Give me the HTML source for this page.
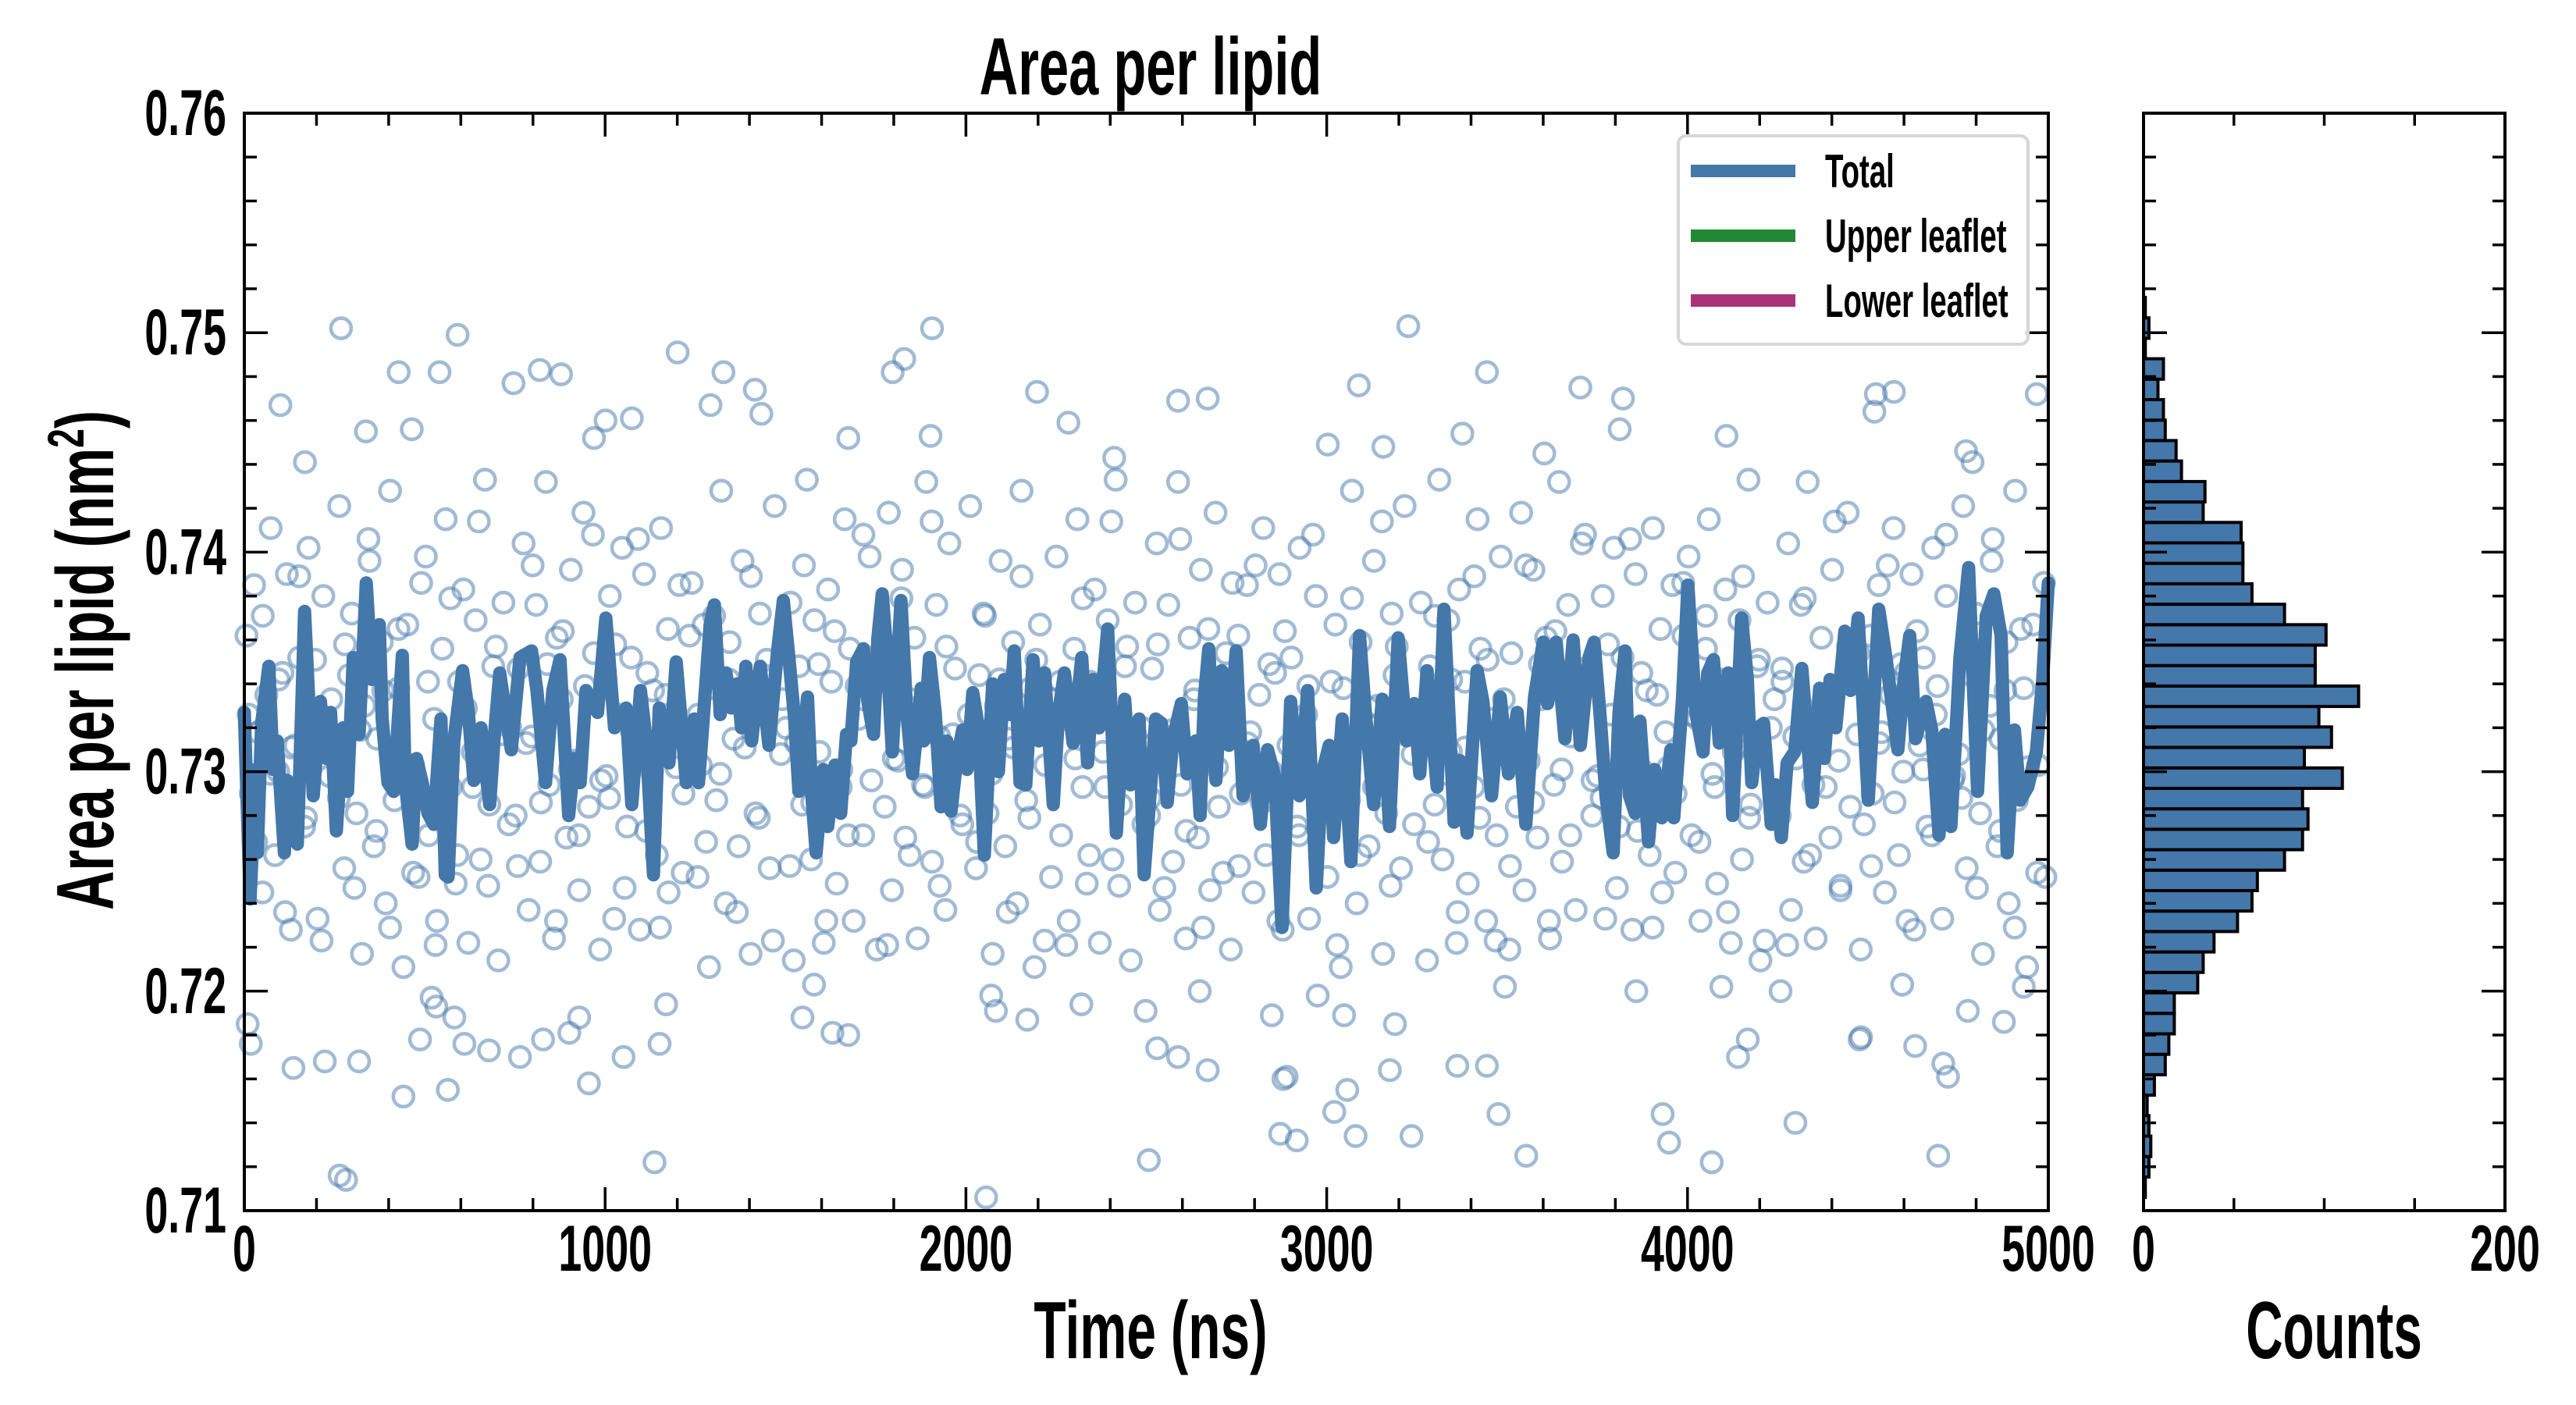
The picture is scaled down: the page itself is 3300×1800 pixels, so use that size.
<!DOCTYPE html>
<html>
<head>
<meta charset="utf-8">
<style>
html,body{margin:0;padding:0;background:#fff;}
svg{display:block;}
text{font-family:"Liberation Sans Narrow","Liberation Sans",sans-serif;font-weight:bold;fill:#000;}
</style>
</head>
<body>
<svg id="chart" width="3300" height="1800" viewBox="0 0 3300 1800" xmlns="http://www.w3.org/2000/svg">
  <g id="scatter"></g>
  <g id="line"></g>
  <g id="hist"></g>
  <g id="axes"></g>
  <g id="labels"></g>
  <g id="legend"></g>
</svg>
<script>
// ---------- data ----------
const xTicks = [0, 1000, 2000, 3000, 4000, 5000];
const xTickLabels = ["0", "1000", "2000", "3000", "4000", "5000"];
const yTicks = [0.71, 0.72, 0.73, 0.74, 0.75, 0.76];
const yTickLabels = ["0.71", "0.72", "0.73", "0.74", "0.75", "0.76"];
const histTicks = [0, 200];
const histTickLabels = ["0", "200"];
const legendLabels = ["Total", "Upper leaflet", "Lower leaflet"];
const legendColors = ["#4477aa", "#228833", "#aa3377"];

const lineTime = [0,16,32,36,48,68,80,91,111,119,131,147,159,167,191,211,227,239,255,274,286,302,318,338,354,374,382,398,414,438,446,465,477,493,509,525,545,557,565,581,605,621,636,656,680,692,708,724,740,764,796,811,835,855,875,899,915,931,947,979,1002,1026,1058,1074,1098,1114,1134,1150,1177,1197,1225,
1247,1259,1279,1291,1303,1319,1335,1350,1366,1378,1390,1406,1418,1430,1454,1478,1494,1510,1525,1537,1561,1573,1585,1605,1617,1637,1653,1669,1681,1697,1716,1728,1744,1756,1768,1780,1796,1820,1836,1852,1876,1883,1899,1915,1931,1947,1959,1975,1991,2003,2019,2035,2051,2074,2090,2106,2122,2134,2150,2166,2186,2202,2218,2242,2257,2273,2297,2321,2337,2353,2369,2393,2417,2440,2456,2480,
2494,2526,2542,2558,2574,2597,2613,2637,2649,2661,2673,2693,2709,2729,2749,2768,2796,2816,2836,2856,2876,2900,2924,2947,2971,2987,3007,3019,3043,3067,3091,3107,3130,3154,3174,3198,3222,3242,3258,3278,3306,3325,3353,3369,3389,3417,3433,3457,3481,3504,3528,3552,3576,3600,3612,3636,3660,3683,3703,3727,
3741,3757,3774,3794,3810,3827,3839,3855,3868,3892,3909,3929,3954,3962,3986,4001,4023,4043,4056,4072,4088,4113,4125,4150,4166,4178,4195,4211,4232,4244,4260,4276,4297,4317,4330,4346,4366,4379,4395,4411,4436,4452,4473,4501,4530,4550,4583,4599,4616,4632,4661,4677,4697,4714,4730,4755,4779,4804,4828,4849,4869,4886,4906,4922,4943,4967,4984,5000];
const lineArea = [.7327,.7242,.7301,.7263,.7322,.7348,.7301,.7314,.7263,.7296,.7289,.7267,.7329,.7373,.7289,.7332,.7306,.7327,.7273,.7320,.7291,.7352,.7317,.7386,.7342,.7367,.7324,.7295,.7291,.7353,.7295,.7267,.7306,.7295,.7281,.7276,.7324,.7253,.7252,.7314,.7346,.7327,.7296,.7320,.7285,.7314,.7345,.7327,.7310,.7352,.7355,.7337,.7295,.7337,.7351,.7280,.7306,.7295,.7337,.7327,.7370,.7320,.7329,.7285,.7337,.7314,.7253,.7329,.7304,.7350,.7295,
.7324,.7295,.7340,.7367,.7376,.7326,.7345,.7329,.7340,.7320,.7348,.7314,.7332,.7348,.7312,.7355,.7378,.7351,.7324,.7291,.7334,.7289,.7263,.7301,.7275,.7303,.7281,.7317,.7314,.7350,.7356,.7332,.7317,.7361,.7381,.7356,.7309,.7378,.7327,.7299,.7338,.7314,.7352,.7327,.7284,.7314,.7282,.7306,.7319,.7301,.7336,.7320,.7262,.7340,.7300,.7342,.7326,.7355,.7295,.7294,.7351,.7314,.7345,.7285,.7327,.7345,.7313,.7352,.7304,.7342,.7320,.7365,.7272,.7333,.7294,.7324,
.7253,.7324,.7322,.7286,.7315,.7331,.7299,.7314,.7280,.7334,.7356,.7296,.7346,.7312,.7355,.7289,.7312,.7276,.7310,.7298,.7229,.7332,.7289,.7337,.7247,.7299,.7312,.7270,.7324,.7259,.7362,.7327,.7285,.7333,.7275,.7361,.7314,.7331,.7299,.7346,.7293,.7374,.7277,.7305,.7272,.7346,.7332,.7289,.7334,.7299,.7327,.7276,.7334,.7359,.7331,.7359,.7315,.7360,.7312,.7352,
.7359,.7327,.7289,.7263,.7327,.7355,.7289,.7281,.7323,.7268,.7301,.7279,.7310,.7279,.7333,.7385,.7327,.7309,.7345,.7351,.7313,.7345,.7280,.7370,.7342,.7295,.7320,.7322,.7276,.7294,.7270,.7304,.7309,.7347,.7320,.7286,.7338,.7306,.7342,.7320,.7364,.7337,.7370,.7287,.7374,.7352,.7310,.7340,.7362,.7315,.7332,.7319,.7271,.7317,.7275,.7352,.7393,.7291,.7371,.7381,.7362,.7263,.7319,.7287,.7293,.7309,.7341,.7386];

const outlierTime = [268,591,3226,1906,428,541,819,1201,1328,1797,1829,2197,2588,2670,3089,3444,4522,4572,3703,3821,4968,3812,4108,4518,1674,1292,1415,1433,1902,2284,2411,3003,3157,3376,3603,4772,4790,1001,969,100,168,337,464,746,878,1074,
264,282,2056,1137,2507,3553,4067,4695,3949,4299,3021,2871,3080,2917,3235,3476,3931,441,564,955,136,223,318,610,678,764,1051,1151,18,1630,1674,2083,2170,2530,2588,2670,2880,2889,3057,3175,3362,3444,4140,4167,4481,4631,4709,4722,4877,4777,9,487,519,532,582,828,901,928,1169,1547,1579,2070,2320,2498,2648,2848,2975,3048,3189,3494,3858,4094,4258,4477,4595,4932];
const outlierArea = [.7502,.7499,.7503,.7502,.7482,.7482,.7483,.7491,.7482,.7482,.7488,.7473,.7469,.7470,.7476,.7482,.7472,.7473,.7475,.7470,.7472,.7456,.7453,.7464,.7452,.7467,.7474,.7463,.7453,.7459,.7443,.7449,.7448,.7454,.7445,.7446,.7441,.7460,.7452,.7467,.7441,.7455,.7456,.7477,.7481,.7461,
.7116,.7114,.7106,.7122,.7123,.7125,.7122,.7125,.7131,.7140,.7145,.7135,.7134,.7132,.7134,.7144,.7144,.7152,.7155,.7158,.7165,.7168,.7168,.7176,.7173,.7170,.7170,.7176,.7176,.7181,.7180,.7191,.7187,.7174,.7170,.7164,.7160,.7161,.7155,.7164,.7166,.7166,.7170,.7178,.7179,.7175,.7167,.7161,.7186,.7191,.7185,.7178,.7197,.7193,.7188,.7178,.7181,.7188,.7194,.7188,.7203,.7198,.7194,.7191,.7200,.7189,.7198,.7189,.7185,.7202,.7200,.7202,.7200,.7178,.7203,.7202];

const bandTime = [
6,18,27,39,50,61,73,85,94,106,118,129,141,152,166,178,190,203,219,236,
254,263,277,290,298,311,326,333,347,359,368,381,392,404,416,427,441,452,468,483,
503,511,526,534,549,558,572,586,595,607,621,633,641,655,667,679,690,704,718,737,
752,760,774,788,797,809,820,836,845,858,866,880,893,905,917,928,940,955,969,986,
1004,1013,1025,1038,1047,1061,1072,1081,1096,1108,1117,1130,1143,1155,1168,1176,1191,1206,1217,1234,
1256,1265,1273,1288,1299,1308,1322,1334,1345,1356,1370,1381,1394,1403,1417,1429,1440,1456,1470,1487,
1502,1514,1523,1537,1546,1559,1571,1580,1594,1606,1618,1627,1642,1653,1664,1678,1689,1703,1715,1733,
1753,1761,1775,1786,1795,1811,1823,1832,1846,1857,1866,1881,1890,1906,1918,1926,1943,1954,1970,1984,
2005,2012,2028,2037,2049,2060,2074,2083,2096,2109,2118,2131,2142,2154,2167,2178,2190,2205,2220,2236,
2251,2264,2276,2285,2300,2309,2323,2335,2344,2357,2371,2380,2393,2406,2415,2430,2441,2457,2469,2488,
2508,2516,2529,2537,2552,2561,2574,2588,2596,2609,2620,2632,2643,2651,2668,2677,2692,2701,2721,2734,
2755,2762,2779,2788,2797,2813,2824,2831,2848,2857,2869,2878,2894,2902,2918,2925,2943,2951,2970,2981,
3002,3014,3024,3039,3046,3062,3070,3083,3094,3109,3116,3131,3140,3156,3165,3180,3188,3206,3216,3238,
3253,3261,3278,3286,3299,3312,3321,3337,3344,3360,3367,3383,3391,3407,3418,3426,3442,3454,3471,3482,
3506,3512,3527,3539,3548,3560,3573,3584,3593,3608,3619,3630,3644,3652,3669,3677,3690,3707,3718,3736,
3751,3765,3772,3789,3796,3810,3820,3835,3847,3856,3872,3879,3895,3904,3916,3930,3939,3958,3967,3989,
4003,4011,4027,4036,4051,4059,4075,4082,4097,4105,4120,4128,4144,4151,4169,4175,4193,4202,4222,4231,
4256,4262,4279,4287,4296,4314,4322,4333,4349,4355,4371,4378,4396,4401,4419,4424,4444,4451,4473,4480,
4507,4513,4530,4538,4547,4563,4571,4586,4598,4604,4621,4629,4643,4655,4665,4681,4688,4706,4717,4739,
4752,4764,4774,4786,4799,4811,4819,4838,4843,4859,4867,4884,4890,4908,4913,4932,4941,4958,4972,4992];
const bandArea = [
.7362,.7290,.7385,.7318,.7245,.7335,.7411,.7262,.7300,.7345,.7390,.7228,.7312,.7352,.7275,.7402,.7326,.7233,.7380,.7298,
.7308,.7421,.7256,.7344,.7372,.7281,.7217,.7330,.7396,.7266,.7315,.7359,.7240,.7428,.7287,.7338,.7211,.7367,.7303,.7252,
.7398,.7271,.7324,.7232,.7356,.7415,.7293,.7249,.7341,.7383,.7222,.7309,.7369,.7260,.7433,.7285,.7348,.7214,.7377,.7320,
.7280,.7347,.7404,.7237,.7316,.7376,.7259,.7432,.7294,.7224,.7361,.7333,.7270,.7392,.7305,.7246,.7418,.7284,.7354,.7219,
.7298,.7380,.7233,.7326,.7402,.7275,.7352,.7312,.7228,.7390,.7345,.7300,.7262,.7411,.7335,.7245,.7318,.7385,.7290,.7362,
.7252,.7303,.7367,.7211,.7338,.7287,.7428,.7240,.7359,.7315,.7266,.7396,.7330,.7217,.7281,.7372,.7344,.7256,.7421,.7308,
.7320,.7377,.7214,.7348,.7285,.7433,.7260,.7369,.7309,.7222,.7383,.7341,.7249,.7293,.7415,.7356,.7232,.7324,.7271,.7398,
.7219,.7354,.7284,.7418,.7246,.7305,.7392,.7270,.7333,.7361,.7224,.7294,.7432,.7259,.7376,.7316,.7237,.7404,.7347,.7280,
.7308,.7421,.7256,.7344,.7372,.7281,.7217,.7330,.7396,.7266,.7315,.7359,.7240,.7428,.7287,.7338,.7211,.7367,.7303,.7252,
.7398,.7271,.7324,.7232,.7356,.7415,.7293,.7249,.7341,.7383,.7222,.7309,.7369,.7260,.7433,.7285,.7348,.7214,.7377,.7320,
.7280,.7347,.7404,.7237,.7316,.7376,.7259,.7432,.7294,.7224,.7361,.7333,.7270,.7392,.7305,.7246,.7418,.7284,.7354,.7219,
.7362,.7290,.7385,.7318,.7245,.7335,.7411,.7262,.7300,.7345,.7390,.7228,.7312,.7352,.7275,.7402,.7326,.7233,.7380,.7298,
.7252,.7303,.7367,.7211,.7338,.7287,.7428,.7240,.7359,.7315,.7266,.7396,.7330,.7217,.7281,.7372,.7344,.7256,.7421,.7308,
.7320,.7377,.7214,.7348,.7285,.7433,.7260,.7369,.7309,.7222,.7383,.7341,.7249,.7293,.7415,.7356,.7232,.7324,.7271,.7398,
.7219,.7354,.7284,.7418,.7246,.7305,.7392,.7270,.7333,.7361,.7224,.7294,.7432,.7259,.7376,.7316,.7237,.7404,.7347,.7280,
.7298,.7380,.7233,.7326,.7402,.7275,.7352,.7312,.7228,.7390,.7345,.7300,.7262,.7411,.7335,.7245,.7318,.7385,.7290,.7362,
.7398,.7271,.7324,.7232,.7356,.7415,.7293,.7249,.7341,.7383,.7222,.7309,.7369,.7260,.7433,.7285,.7348,.7214,.7377,.7320,
.7280,.7347,.7404,.7237,.7316,.7376,.7259,.7432,.7294,.7224,.7361,.7333,.7270,.7392,.7305,.7246,.7418,.7284,.7354,.7219,
.7362,.7290,.7385,.7318,.7245,.7335,.7411,.7262,.7300,.7345,.7390,.7228,.7312,.7352,.7275,.7402,.7326,.7233,.7380,.7298,
.7308,.7421,.7256,.7344,.7372,.7281,.7217,.7330,.7396,.7266,.7315,.7359,.7240,.7428,.7287,.7338,.7211,.7367,.7303,.7252];

const band2Time = [
12,33,51,72,95,113,131,152,171,196,214,241,
262,279,305,321,344,366,385,404,427,445,468,490,
509,530,552,571,590,614,633,650,676,697,711,733,
758,781,799,822,840,864,883,902,927,944,966,989,
1011,1028,1054,1073,1091,1114,1133,1152,1174,1197,1215,1240,
1258,1280,1302,1319,1343,1365,1387,1404,1426,1448,1465,1491,
1512,1529,1551,1574,1592,1613,1636,1655,1673,1697,1716,1738,
1759,1782,1800,1821,1844,1862,1886,1905,1927,1946,1964,1990,
2008,2031,2053,2071,2093,2116,2132,2154,2176,2195,2218,2243,
2261,2278,2303,2324,2342,2363,2386,2403,2425,2447,2469,2492,
2511,2532,2550,2573,2594,2611,2635,2657,2672,2696,2713,2739,
2757,2780,2803,2820,2841,2866,2884,2906,2923,2949,2962,2987,
3013,3029,3055,3070,3092,3115,3131,3153,3177,3194,3217,3242,
3259,3281,3300,3322,3345,3363,3384,3409,3423,3446,3468,3491,
3508,3533,3552,3572,3591,3616,3634,3651,3675,3694,3716,3737,
3762,3780,3804,3823,3841,3862,3887,3903,3925,3947,3966,3988,
4010,4033,4051,4069,4094,4112,4133,4154,4171,4198,4214,4241,
4263,4276,4301,4325,4340,4367,4383,4408,4424,4445,4470,4489,
4509,4531,4555,4574,4591,4610,4636,4653,4677,4693,4717,4735,
4759,4777,4802,4820,4846,4866,4881,4907,4924,4944,4969,4988];
const band2Area = [
.7326,.7268,.7371,.7299,.7342,.7236,.7311,.7389,.7279,.7351,.7223,.7333,
.7288,.7358,.7247,.7319,.7406,.7273,.7337,.7229,.7365,.7302,.7254,.7386,
.7341,.7221,.7306,.7379,.7262,.7329,.7293,.7414,.7248,.7357,.7317,.7276,
.7257,.7313,.7394,.7286,.7349,.7232,.7364,.7301,.7271,.7339,.7408,.7296,
.7288,.7358,.7247,.7319,.7406,.7273,.7337,.7229,.7365,.7302,.7254,.7386,
.7326,.7268,.7371,.7299,.7342,.7236,.7311,.7389,.7279,.7351,.7223,.7333,
.7257,.7313,.7394,.7286,.7349,.7232,.7364,.7301,.7271,.7339,.7408,.7296,
.7341,.7221,.7306,.7379,.7262,.7329,.7293,.7414,.7248,.7357,.7317,.7276,
.7326,.7268,.7371,.7299,.7342,.7236,.7311,.7389,.7279,.7351,.7223,.7333,
.7341,.7221,.7306,.7379,.7262,.7329,.7293,.7414,.7248,.7357,.7317,.7276,
.7288,.7358,.7247,.7319,.7406,.7273,.7337,.7229,.7365,.7302,.7254,.7386,
.7257,.7313,.7394,.7286,.7349,.7232,.7364,.7301,.7271,.7339,.7408,.7296,
.7341,.7221,.7306,.7379,.7262,.7329,.7293,.7414,.7248,.7357,.7317,.7276,
.7326,.7268,.7371,.7299,.7342,.7236,.7311,.7389,.7279,.7351,.7223,.7333,
.7257,.7313,.7394,.7286,.7349,.7232,.7364,.7301,.7271,.7339,.7408,.7296,
.7288,.7358,.7247,.7319,.7406,.7273,.7337,.7229,.7365,.7302,.7254,.7386,
.7326,.7268,.7371,.7299,.7342,.7236,.7311,.7389,.7279,.7351,.7223,.7333,
.7341,.7221,.7306,.7379,.7262,.7329,.7293,.7414,.7248,.7357,.7317,.7276,
.7257,.7313,.7394,.7286,.7349,.7232,.7364,.7301,.7271,.7339,.7408,.7296,
.7288,.7358,.7247,.7319,.7406,.7273,.7337,.7229,.7365,.7302,.7254,.7386];

// histogram: bins from low to high area
const histStart = 0.7106;
const histBinWidth = 0.000932;
const histCounts = [1,3,4,3,2,6,12,14,17,17,30,33,39,52,60,63,78,88,91,88,110,89,104,97,119,95,95,101,78,60,55,55,54,33,34,21,18,12,11,8,11,1,3,1];

// ---------- layout ----------
const NS = "http://www.w3.org/2000/svg";
const X0 = 313, X1 = 2624, Y0 = 145, Y1 = 1551;
const H0 = 2746, H1 = 3209;
const xMin = 0, xMax = 5000, yMin = 0.71, yMax = 0.76, cMax = 200;
function xs(t) { return X0 + (t - xMin) / (xMax - xMin) * (X1 - X0); }
function ys(v) { return Y1 - (v - yMin) / (yMax - yMin) * (Y1 - Y0); }
function hx(c) { return H0 + c / cMax * (H1 - H0); }

function mk(tag, attrs, parent) {
  const e = document.createElementNS(NS, tag);
  for (const k in attrs) e.setAttribute(k, attrs[k]);
  parent.appendChild(e);
  return e;
}
function label(parent, x, y, str, size, anchor, sx, rot) {
  const g = mk("g", { transform: "translate(" + x + "," + y + ") rotate(" + (rot || 0) + ") scale(" + sx + ",1)" }, parent);
  const t = mk("text", { x: 0, y: 0, "font-size": size, "text-anchor": anchor }, g);
  t.textContent = str;
  return g;
}

// scatter
const sc = document.getElementById("scatter");
const allT = outlierTime.concat(bandTime, band2Time);
const allV = outlierArea.concat(bandArea, band2Area);
for (let i = 0; i < Math.min(allT.length, allV.length); i++) {
  const c = mk("circle", { cx: xs(allT[i]).toFixed(1), cy: ys(allV[i]).toFixed(1), r: 13, fill: "none", stroke: "#4477aa", "stroke-width": 4.6, "stroke-opacity": 0.5 }, sc);
  
  
}

// line
const lg = document.getElementById("line");
let pts = [];
for (let i = 0; i < Math.min(lineTime.length, lineArea.length); i++) pts.push(xs(lineTime[i]).toFixed(1) + "," + ys(lineArea[i]).toFixed(1));
const pl = mk("polyline", { points: pts.join(" "), fill: "none", stroke: "#4477aa", "stroke-width": 17, "stroke-linejoin": "round", "stroke-linecap": "round" }, lg);



// histogram
const hg = document.getElementById("hist");
for (let i = 0; i < histCounts.length; i++) {
  const lo = histStart + i * histBinWidth, hi = lo + histBinWidth;
  const r = mk("rect", { x: hx(0), y: ys(hi).toFixed(1), width: (hx(histCounts[i]) - hx(0)).toFixed(1), height: (ys(lo) - ys(hi)).toFixed(1), fill: "#4477aa", stroke: "#000", "stroke-width": 4 }, hg);
  
  
}

// axes
const ax = document.getElementById("axes");
function frame(x0, x1, name) {
  const r = mk("rect", { x: x0, y: Y0, width: x1 - x0, height: Y1 - Y0, fill: "none", stroke: "#000", "stroke-width": 4 }, ax);
  
  
}
frame(X0, X1, "main-plot-frame");
frame(H0, H1, "hist-plot-frame");
function tick(x1, y1, x2, y2) { mk("line", { x1: x1, y1: y1, x2: x2, y2: y2, stroke: "#000", "stroke-width": 3.5 }, ax); }
for (let t = 0; t <= 5000; t += 200) {
  const L = (t % 1000 === 0) ? 30 : 16, x = xs(t);
  tick(x, Y1, x, Y1 - L); tick(x, Y0, x, Y0 + L);
}
for (let k = 0; k <= 25; k++) {
  const v = 0.71 + k * 0.002, y = ys(v), L = (k % 5 === 0) ? 30 : 16;
  tick(X0, y, X0 + L, y); tick(X1, y, X1 - L, y);
  tick(H0, y, H0 + L, y); tick(H1, y, H1 - L, y);
}
for (let c = 0; c <= 200; c += 50) {
  const L = (c % 200 === 0) ? 30 : 16, x = hx(c);
  tick(x, Y1, x, Y1 - L); tick(x, Y0, x, Y0 + L);
}

// labels
const lb = document.getElementById("labels");
for (let i = 0; i < xTicks.length; i++) {
  const g = label(lb, xs(xTicks[i]), 1628, xTickLabels[i], 84, "middle", 0.64);
  
  
}
for (let i = 0; i < yTicks.length; i++) {
  const g = label(lb, 290, ys(yTicks[i]) + 28, yTickLabels[i], 84, "end", 0.64);
  
  
}
for (let i = 0; i < histTicks.length; i++) {
  const g = label(lb, hx(histTicks[i]), 1628, histTickLabels[i], 84, "middle", 0.64);
  
  
}
const tl = label(lb, 1474, 121, "Area per lipid", 104, "middle", 0.66);


const xl = label(lb, 1474, 1740, "Time (ns)", 104, "middle", 0.65);


const cl = label(lb, 2990, 1740, "Counts", 104, "middle", 0.63);


const ylg = mk("g", { transform: "translate(145,846) rotate(-90) scale(0.67,1)" }, lb);


const ylt = mk("text", { x: 0, y: 0, "font-size": 104, "text-anchor": "middle" }, ylg);
ylt.textContent = "Area per lipid (nm";
const sup = mk("tspan", { "font-size": 66, dy: -38 }, ylt);
sup.textContent = "2";
const cls = mk("tspan", { dy: 38 }, ylt);
cls.textContent = ")";

// legend
const le = document.getElementById("legend");
const box = mk("rect", { x: 2150, y: 174, width: 448, height: 267, rx: 10, fill: "#fff", "fill-opacity": 0.85, stroke: "#d6d6d6", "stroke-width": 4 }, le);


const rowY = [219, 302, 385];
for (let i = 0; i < legendLabels.length; i++) {
  const g = mk("g", {}, le);
  
  
  mk("line", { x1: 2166, y1: rowY[i], x2: 2300, y2: rowY[i], stroke: legendColors[i], "stroke-width": 16 }, g);
  label(g, 2338, rowY[i] + 21, legendLabels[i], 60, "start", 0.64);
}
</script>
</body>
</html>
